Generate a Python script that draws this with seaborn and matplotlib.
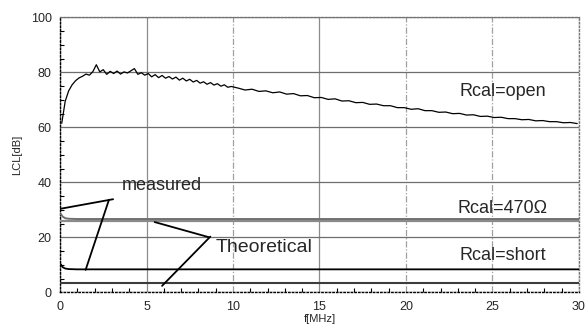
import numpy as np
import pandas as pd
import matplotlib
matplotlib.use("Agg")
import matplotlib.pyplot as plt
import seaborn as sns

# ---- data ----
open_f = [0.1, 0.3, 0.5, 0.7, 0.9, 1.1, 1.3, 1.5, 1.7, 1.9,
          2.1, 2.3, 2.5, 2.7, 2.9, 3.1, 3.3, 3.5, 3.7, 3.9,
          4.1, 4.3, 4.5, 4.7, 4.9, 5.1, 5.3, 5.5, 5.7, 5.9,
          6.1, 6.3, 6.5, 6.7, 6.9, 7.1, 7.3, 7.5, 7.7, 7.9,
          8.1, 8.3, 8.5, 8.7, 8.9, 9.1, 9.3, 9.5, 9.7, 9.9,
          10.3, 10.7, 11.1, 11.5, 11.9, 12.3, 12.7, 13.1, 13.5, 13.9,
          14.3, 14.7, 15.1, 15.5, 15.9, 16.3, 16.7, 17.1, 17.5, 17.9,
          18.3, 18.7, 19.1, 19.5, 19.9, 20.3, 20.7, 21.1, 21.5, 21.9,
          22.3, 22.7, 23.1, 23.5, 23.9, 24.3, 24.7, 25.1, 25.5, 25.9,
          26.3, 26.7, 27.1, 27.5, 27.9, 28.3, 28.7, 29.1, 29.5, 29.9]
open_lcl = [61.5, 69.5, 73.3, 75.5, 77.0, 78.0, 78.6, 79.4, 79.0, 80.3,
            82.8, 80.2, 81.0, 79.3, 80.4, 79.6, 80.5, 79.4, 80.2, 79.8,
            80.6, 81.4, 79.3, 79.9, 79.0, 79.6, 78.4, 79.2, 78.1, 78.9,
            77.9, 78.5, 77.6, 78.3, 77.2, 77.9, 76.9, 77.5, 76.5, 77.1,
            76.1, 76.6, 75.7, 76.3, 75.4, 75.9, 75.0, 75.5, 74.6, 74.9,
            74.3, 73.6, 73.9, 73.1, 73.3, 72.6, 72.9, 72.1, 72.3, 71.5,
            71.6, 70.8, 70.9, 70.2, 70.4, 69.6, 69.7, 69.0, 69.1, 68.4,
            68.5, 67.9, 67.9, 67.2, 67.2, 66.6, 66.8, 66.1, 66.1, 65.5,
            65.6, 65.0, 65.1, 64.5, 64.6, 64.0, 64.1, 63.6, 63.7, 63.2,
            63.2, 62.8, 62.9, 62.4, 62.5, 62.1, 62.1, 61.7, 61.8, 61.4]

r470_meas_f = [0.05, 0.15, 0.3, 0.5, 1.0, 30.0]
r470_meas_lcl = [28.5, 27.6, 27.0, 26.8, 26.7, 26.7]
r470_theo_f = [0.0, 15.0, 30.0]
r470_theo_lcl = [25.9, 25.9, 25.9]

short_meas_f = [0.05, 0.15, 0.3, 0.5, 1.0, 30.0]
short_meas_lcl = [10.2, 9.2, 8.7, 8.5, 8.4, 8.4]
short_theo_f = [0.0, 15.0, 30.0]
short_theo_lcl = [3.6, 3.6, 3.6]

x_ticks = [0, 5, 10, 15, 20, 25, 30]
y_ticks = [0, 20, 40, 60, 80, 100]

# ---- figure ----
sns.set_theme(style="white")
plt.rcParams["font.family"] = ["Liberation Sans", "DejaVu Sans"]

fig = plt.figure(figsize=(5.86, 3.35), dpi=100)
ax = fig.add_axes([0.1024, 0.127, 0.8856, 0.821])

series = [
    ("open", open_f, open_lcl),
    ("r470_theo", r470_theo_f, r470_theo_lcl),
    ("r470_meas", r470_meas_f, r470_meas_lcl),
    ("short_meas", short_meas_f, short_meas_lcl),
    ("short_theo", short_theo_f, short_theo_lcl),
]
df = pd.concat(
    [pd.DataFrame({"f": np.asarray(fx, float), "lcl": np.asarray(fy, float), "series": name})
     for name, fx, fy in series],
    ignore_index=True,
)
palette = {"open": "black", "r470_theo": "#8a8a8a", "r470_meas": "#707070",
           "short_meas": "black", "short_theo": "#3c3c3c"}
sizes = {"open": 0.9, "r470_theo": 1.6, "r470_meas": 1.4,
         "short_meas": 1.3, "short_theo": 1.5}
sns.lineplot(data=df, x="f", y="lcl", hue="series", size="series",
             palette=palette, sizes=sizes, units="series", estimator=None,
             sort=False, legend=False, ax=ax, zorder=4)

ax.set_xlim(0, 30)
ax.set_ylim(0, 100)
ax.set_xticks(x_ticks)
ax.set_yticks(y_ticks)
ax.set_xticks(np.arange(0, 31, 1), minor=True)
ax.set_yticks(np.arange(0, 101, 5), minor=True)
ax.tick_params(axis="both", which="major", labelsize=9, length=0, pad=6)
ax.tick_params(axis="both", which="minor", direction="in", length=3, width=0.8,
               color="black", bottom=True, left=True)

ax.grid(axis="y", which="major", color="#6e6e6e", lw=0.9)
ax.grid(axis="x", which="major", color="#8c8c8c", lw=0.9)
for val, gl in zip(ax.get_xticks(), ax.get_xgridlines()):
    if val in (10, 20, 25):
        gl.set_linestyle((0, (5, 1.5, 1, 1.5)))
        gl.set_color("#a0a0a0")

for side in ["left", "bottom", "top", "right"]:
    ax.spines[side].set_linestyle(":")
    ax.spines[side].set_linewidth(1.0)
    ax.spines[side].set_color("black" if side in ("left", "bottom") else "#777777")

ax.set_xlabel("f[MHz]", fontsize=8, labelpad=1)
ax.set_ylabel("LCL[dB]", fontsize=8, labelpad=6)

# annotations
ax.text(5.9, 39.0, "measured", fontsize=13, ha="center", va="center")
ax.plot([0.0, 3.07], [30.4, 33.9], color="black", lw=1.3, zorder=5)
ax.plot([2.83, 1.48], [33.7, 8.2], color="black", lw=1.3, zorder=5)

ax.text(9.0, 16.4, "Theoretical", fontsize=14, ha="left", va="center")
ax.plot([8.6, 5.47], [20.1, 25.6], color="black", lw=1.3, zorder=5)
ax.plot([8.69, 5.9], [20.3, 2.4], color="black", lw=1.3, zorder=5)

ax.text(25.6, 73.2, "Rcal=open", fontsize=13, ha="center", va="center")
ax.text(25.6, 30.6, "Rcal=470\u03a9", fontsize=13, ha="center", va="center")
ax.text(25.6, 13.6, "Rcal=short", fontsize=13, ha="center", va="center")

fig.savefig("out.png", dpi=100)
